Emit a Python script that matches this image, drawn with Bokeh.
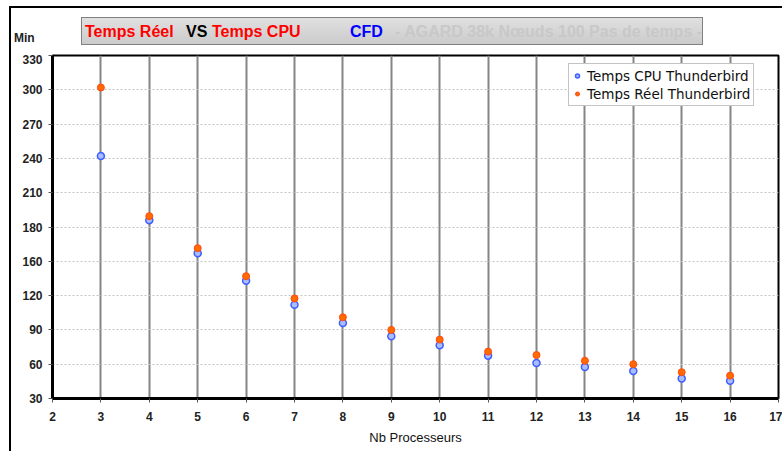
from bokeh.plotting import figure
from bokeh.models import Range1d, FixedTicker, Div
from bokeh.layouts import column
from bokeh.embed import file_html
from bokeh.resources import INLINE

# ---- data ----
procs = [3, 4, 5, 6, 7, 8, 9, 10, 11, 12, 13, 14, 15, 16]
cpu_time = [242, 186, 157, 133, 112, 96, 84.5, 76.5, 67.5, 61, 57.5, 54, 47.5, 45.5]
real_time = [302, 189.5, 161.5, 137, 117.5, 101, 90, 81.5, 71, 68, 63, 60, 53, 50]
x_ticks = list(range(2, 18))
y_ticks = [30, 60, 90, 120, 150, 180, 210, 240, 270, 300, 330]
y_tick_labels = ["30", "60", "90", "120", "160", "180", "210", "240", "270", "300", "330"]
series_names = ["Temps CPU Thunderbird", "Temps Réel Thunderbird"]
title_parts = ["Temps Réel", "VS", "Temps CPU", "CFD", "- AGARD 38k Nœuds 100 Pas de temps -"]
y_unit = "Min"

FONT = "Liberation Sans"

p = figure(width=771, height=397, output_backend="svg", toolbar_location=None,
           x_range=Range1d(2, 17), y_range=Range1d(30, 330),
           min_border_left=41, min_border_right=4, min_border_top=1, min_border_bottom=53,
           margin=0)
p.background_fill_color = "white"
p.border_fill_color = "white"
p.outline_line_color = "black"
p.outline_line_width = 2

# grids
p.xgrid.ticker = FixedTicker(ticks=x_ticks)
p.xgrid.grid_line_color = "#858585"
p.xgrid.grid_line_width = 2
p.ygrid.ticker = FixedTicker(ticks=y_ticks)
p.ygrid.grid_line_color = "#c4c4c4"
p.ygrid.grid_line_width = 1
p.ygrid.grid_line_dash = "2 2"

# axes
p.xaxis.ticker = FixedTicker(ticks=x_ticks)
p.yaxis.ticker = FixedTicker(ticks=y_ticks)
p.yaxis.major_label_overrides = {t: l for t, l in zip(y_ticks, y_tick_labels)}
for ax in (p.xaxis[0], p.yaxis[0]):
    ax.axis_line_color = "black"
    ax.axis_line_width = 3
    ax.major_tick_line_color = "#555555"
    ax.major_tick_out = 4
    ax.major_tick_in = 0
    ax.minor_tick_line_color = None
    ax.major_label_text_font = FONT
    ax.major_label_text_font_size = "12px"
    ax.major_label_text_font_style = "bold"
    ax.major_label_text_color = "#222222"
p.yaxis.major_label_standoff = 6
p.xaxis.major_label_standoff = 9
p.xaxis.axis_label = "Nb Processeurs"
p.xaxis.axis_label_text_font = FONT
p.xaxis.axis_label_text_font_size = "13px"
p.xaxis.axis_label_text_font_style = "normal"
p.xaxis.axis_label_text_color = "#111111"
p.xaxis.axis_label_standoff = 6

# data
p.scatter(procs, cpu_time, size=7, marker="circle", fill_color="#a8bcff",
          line_color="#3f5fff", line_width=1.5, legend_label=series_names[0])
p.scatter(procs, real_time, size=7, marker="circle", fill_color="#ff6a00",
          line_color="#ff4a10", line_width=1, legend_label=series_names[1])

# legend
lg = p.legend[0]
lg.location = (516, 292)
lg.margin = 0
lg.padding = 3
lg.spacing = 1
lg.glyph_width = 10
lg.glyph_height = 17
lg.label_height = 17
lg.label_standoff = 5
lg.label_text_font = "DejaVu Sans"
lg.label_text_font_size = "13.5px"
lg.label_text_color = "#111111"
lg.border_line_color = "#8a8a8a"
lg.border_line_width = 1
lg.background_fill_color = "white"
lg.background_fill_alpha = 1

# title band (title box + unit label) above the plot
part_left = [3, 104, 130, 268, 313]
part_color = ["#ff0000", "#000000", "#ff0000", "#0000ff", "#c8c8c8"]
spans = "".join(
    f'<span style="position:absolute;left:{lx}px;top:0;color:{c};">{t}</span>'
    for t, lx, c in zip(title_parts, part_left, part_color))
html = (
    f'<div style="position:relative;width:771px;height:46px;font-family:\'{FONT}\';">'
    '<div style="position:absolute;left:70px;top:9px;width:622px;height:28px;'
    'background:linear-gradient(#e0e0e0,#cbcbcb);border:1px solid #808080;'
    'overflow:hidden;white-space:nowrap;font-weight:bold;font-size:16px;line-height:27px;">'
    f'{spans}</div>'
    '<div style="position:absolute;left:3px;top:23px;font-size:12px;font-weight:bold;'
    f'color:#222222;line-height:14px;">{y_unit}</div>'
    '</div>')
header = Div(text=html, width=771, height=46, margin=0)

layout = column(header, p, margin=(6, 0, 0, 9), spacing=0,
                styles={"border-top": "2px solid black", "border-left": "2px solid black"})

open("out.html", "w").write(file_html(layout, INLINE))
